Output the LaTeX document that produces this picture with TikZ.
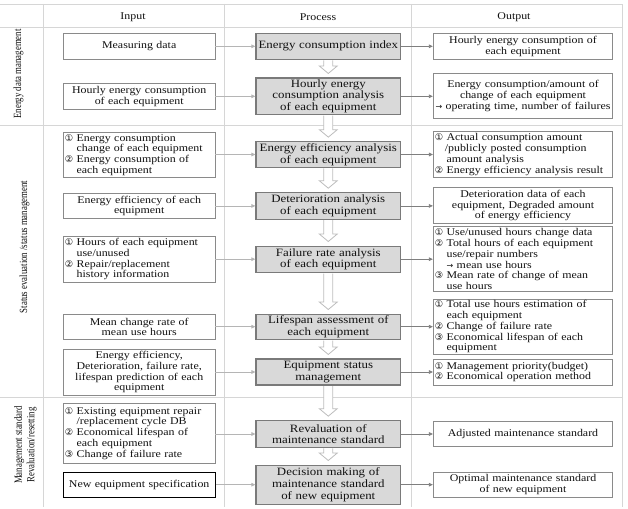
\documentclass[tikz,border=0pt]{standalone}
\usepackage{fontspec}
\setmainfont{Liberation Serif}[FakeStretch=1.15]
\newfontfamily\labf{Liberation Serif}[FakeStretch=0.8]
\newfontfamily\symf{DejaVu Sans}
\usetikzlibrary{arrows.meta,calc}
\definecolor{gridc}{HTML}{D6D6D6}
\definecolor{boxc}{HTML}{8A8A8A}
\definecolor{procfill}{HTML}{D9D9D9}
\definecolor{procdraw}{HTML}{7A7A7A}
\definecolor{inarr}{HTML}{B5B5B5}
\definecolor{outarr}{HTML}{7F7F7F}
\definecolor{blkarr}{HTML}{BDBDBD}
\definecolor{txt}{HTML}{111111}
\newcommand\cn[1]{{\symf\fontsize{9.3pt}{10pt}\selectfont #1}\ }
\newcommand\ind{\hphantom{\cn{①}}}
\newcommand\rarr{{\symf\fontsize{8pt}{10pt}\selectfont →}}
\newcommand\blockarrow[2]{%
  \path[draw=blkarr, fill=white, line width=0.8pt] let \p1=(#1.south), \p2=(#2.north) in
  ({\x1-4.5pt},{\y1-0.6pt}) -- ({\x1-4.5pt},{\y2+11.5pt}) -- ({\x1-9pt},{\y2+11.5pt}) --
  (\x1,{\y2+4pt}) -- ({\x1+9pt},{\y2+11.5pt}) -- ({\x1+4.5pt},{\y2+11.5pt}) -- ({\x1+4.5pt},{\y1-0.6pt});}
\tikzset{
  bodyfont/.style={font=\fontsize{10.35pt}{10.7pt}\selectfont},
  inbox/.style={draw=boxc, line width=0.8pt, fill=white, bodyfont, text=txt,
    minimum width=151.7pt, text width=148.7pt, inner sep=1.5pt, align=center},
  inboxl/.style={inbox, align=left},
  outbox/.style={draw=boxc, line width=0.8pt, fill=white, bodyfont, text=txt,
    minimum width=179.4pt, text width=176.4pt, inner sep=1.5pt, align=center},
  outboxl/.style={outbox, align=left},
  procbox/.style={draw=procdraw, line width=1.1pt, fill=procfill, text=txt,
    font=\fontsize{11.2pt}{11.7pt}\selectfont,
    minimum width=144.7pt, text width=141.7pt, inner sep=1.5pt, align=center},
  hdr/.style={bodyfont, text=txt},
  lab/.style={font=\labf\fontsize{11pt}{12.7pt}\selectfont, text=txt, rotate=90, align=center},
  inarrow/.style={draw=inarr, line width=0.8pt, -{Triangle[length=4pt,width=3.6pt]}},
  outarrow/.style={draw=outarr, line width=0.8pt, -{Triangle[length=4pt,width=3.6pt]}},
  gridline/.style={draw=gridc, line width=0.8pt}
}
\begin{document}
\begin{tikzpicture}[x=1pt,y=-1pt]
\useasboundingbox (0,0) rectangle (628,508);
% table grid
\draw[gridline] (0,4) -- (622.7,4) -- (622.7,507);
\draw[gridline] (0,27) -- (622.7,27);
\draw[gridline] (0,125) -- (622.7,125);
\draw[gridline] (0,397) -- (622.7,397);
\draw[gridline] (43.3,4) -- (43.3,507);
\draw[gridline] (224.3,4) -- (224.3,507);
\draw[gridline] (411.7,4) -- (411.7,507);
% headers
\node[hdr] (hin) at (133,17) {Input};
\node[hdr] (hpr) at (318,17) {Process};
\node[hdr] (hout) at (514,17) {Output};
% side labels
\node[lab] (l1) at (18.5,74) {Energy data management};
\node[lab] (l2) at (24.5,247) {Status evaluation /status management};
\node[lab] (l3) at (25.5,445) {Management standard\\Revaluation/resetting};
% input boxes
\node[inbox, minimum height=25.7pt] (i1) at (139.2,46.2) {Measuring data};
\node[inbox, minimum height=26.4pt] (i2) at (139.2,96.5) {Hourly energy consumption\\of each equipment};
\node[inboxl, minimum height=45pt] (i3) at (139.2,154.8) {\cn{①}Energy consumption\\\ind change of each equipment\\\cn{②}Energy consumption of\\\ind each equipment};
\node[inbox, minimum height=25.4pt] (i4) at (139.2,206) {Energy efficiency of each\\equipment};
\node[inboxl, minimum height=46.3pt] (i5) at (139.2,259.2) {\cn{①}Hours of each equipment\\\ind use/unused\\\cn{②}Repair/replacement\\\ind history information};
\node[inbox, minimum height=25pt] (i6) at (139.2,326.8) {Mean change rate of\\mean use hours};
\node[inbox, minimum height=46.3pt] (i7) at (139.2,372.2) {Energy efficiency,\\Deterioration, failure rate,\\lifespan prediction of each\\equipment};
\node[inboxl, minimum height=60pt] (i8) at (139.2,433.3) {\cn{①}Existing equipment repair\\\ind /replacement cycle DB\\\cn{②}Economical lifespan of\\\ind each equipment\\\cn{③}Change of failure rate};
\node[inbox, draw=black, line width=1.1pt, minimum height=25pt] (i9) at (139.2,484.8) {New equipment specification};
% process boxes
\node[procbox, minimum height=26pt] (p1) at (328.3,46.3) {Energy consumption index};
\node[procbox, minimum height=36pt] (p2) at (328.3,96.3) {Hourly energy\\consumption analysis\\of each equipment};
\node[procbox, minimum height=25.6pt] (p3) at (328.3,154.5) {Energy efficiency analysis\\of each equipment};
\node[procbox, minimum height=26.3pt] (p4) at (328.3,205.9) {Deterioration analysis\\of each equipment};
\node[procbox, minimum height=26.3pt] (p5) at (328.3,259.2) {Failure rate analysis\\of each equipment};
\node[procbox, minimum height=25.3pt] (p6) at (328.3,326.7) {Lifespan assessment of\\each equipment};
\node[procbox, minimum height=26pt] (p7) at (328.3,372) {Equipment status\\management};
\node[procbox, minimum height=26.6pt] (p8) at (328.3,434) {Revaluation of\\maintenance standard};
\node[procbox, minimum height=39.3pt] (p9) at (328.3,484.7) {Decision making of\\maintenance standard\\of new equipment};
% output boxes
\node[outbox, minimum height=26pt] (o1) at (523,46.3) {Hourly energy consumption of\\each equipment};
\node[outbox, minimum height=45pt] (o2) at (523,95.8) {Energy consumption/amount of\\change of each equipment\\\rarr\ operating time, number of failures};
\node[outboxl, minimum height=45.6pt] (o3) at (523,154.5) {\cn{①}Actual consumption amount\\\hspace*{10pt}/publicly posted consumption\\\ind amount analysis\\\cn{②}Energy efficiency analysis result};
\node[outbox, minimum height=35.6pt] (o4) at (523,205.5) {Deterioration data of each\\equipment, Degraded amount\\of energy efficiency};
\node[outboxl, minimum height=65pt] (o5) at (523,259.2) {\cn{①}Use/unused hours change data\\\cn{②}Total hours of each equipment\\\ind use/repair numbers\\\ind \rarr\ mean use hours\\\cn{③}Mean rate of change of mean\\\ind use hours};
\node[outboxl, minimum height=55pt] (o6) at (523,326.8) {\cn{①}Total use hours estimation of\\\ind each equipment\\\cn{②}Change of failure rate\\\cn{③}Economical lifespan of each\\\ind equipment};
\node[outboxl, minimum height=26pt] (o7) at (523,372) {\cn{①}Management priority(budget)\\\cn{②}Economical operation method};
\node[outbox, minimum height=25pt] (o8) at (523,434.2) {Adjusted maintenance standard};
\node[outbox, minimum height=25pt] (o9) at (523,484.8) {Optimal maintenance standard\\of new equipment};
% input -> process and process -> output arrows
\foreach \k in {1,...,9} {
  \draw[inarrow] (p\k.west -| i\k.east) -- (p\k.west);
  \draw[outarrow] (p\k.east) -- (p\k.east -| o\k.west);
}
% block arrows between process steps
\blockarrow{p1}{p2}
\blockarrow{p2}{p3}
\blockarrow{p3}{p4}
\blockarrow{p4}{p5}
\blockarrow{p5}{p6}
\blockarrow{p6}{p7}
\blockarrow{p7}{p8}
\blockarrow{p8}{p9}
\end{tikzpicture}
\end{document}
